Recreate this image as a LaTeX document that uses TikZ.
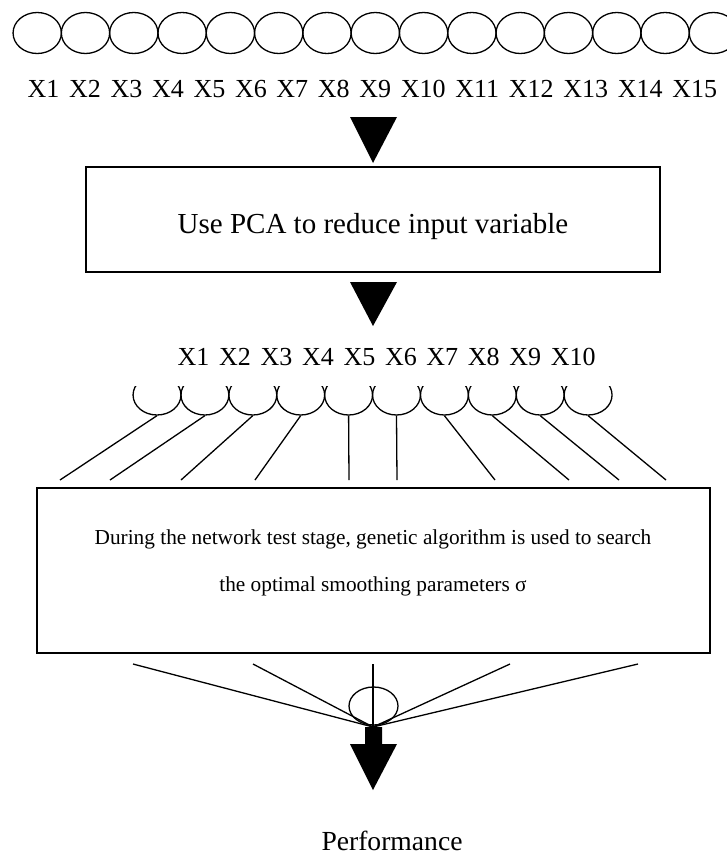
\documentclass[tikz,border=0pt]{standalone}
\usepackage{fontspec}
\setmainfont{Liberation Serif}
\usetikzlibrary{shapes.geometric}
\begin{document}
\begin{tikzpicture}[x=1pt,y=-1pt,line width=1.3pt,
  inell/.style={draw,ellipse,inner sep=0pt,minimum width=48.3pt,minimum height=41pt},
  cup/.style={draw,ellipse,inner sep=0pt,minimum width=47.9pt,minimum height=40pt},
  boxstyle/.style={draw,rectangle,inner sep=0pt,line width=1.6pt},
  lbl/.style={inner sep=0pt,font=\fontsize{26}{30}\selectfont},
  headfill/.style={fill=black,draw=none}]
\useasboundingbox (0,0) rectangle (727,857);

% input layer
\foreach \i in {1,...,15}
  \node[inell] (in\i) at ({37.2+48.3*(\i-1)},33) {};
\node[lbl,anchor=base west] (xin) at (27,97)
  {\spaceskip=9.7pt X1 X2 X3 X4 X5 X6 X7 X8 X9 X10 X11 X12 X13 X14 X15};

% arrow 1
\fill[headfill] (350,117) -- (397,117) -- (373,163) -- cycle;

% PCA box
\node[boxstyle,minimum width=574pt,minimum height=105pt] (pca) at (373,219.5) {};
\node[inner sep=0pt,anchor=base,font=\fontsize{29}{34}\selectfont] (pcatext) at (373,233)
  {Use PCA to reduce input variable};

% arrow 2
\fill[headfill] (350,282) -- (397,282) -- (373,326) -- cycle;

% reduced variables
\node[lbl,anchor=base west] (xred) at (177,365)
  {\spaceskip=9.7pt X1 X2 X3 X4 X5 X6 X7 X8 X9 X10};

\begin{scope}
  \clip (100,386) rectangle (640,430);
  \foreach \i in {1,...,10}
    \node[cup] (cup\i) at ({157+47.9*(\i-1)},395) {};
\end{scope}

\foreach \i/\x in {1/60,2/110,3/181,4/255,5/349,6/397,7/495,8/569,9/619,10/666} {
  \coordinate (t\i) at (\x,480);
  \draw (cup\i.south) -- (t\i);
}

% GA box
\node[boxstyle,minimum width=673pt,minimum height=165pt] (ga) at (373.5,570.5) {};
\node[inner sep=0pt,anchor=base,font=\fontsize{21.3}{25}\selectfont] (gatext1) at (373,544)
  {During the network test stage, genetic algorithm is used to search};
\node[inner sep=0pt,anchor=base,font=\fontsize{21.3}{25}\selectfont] (gatext2) at (373,591)
  {the optimal smoothing parameters σ};

% output
\node[draw,ellipse,inner sep=0pt,minimum width=49pt,minimum height=38pt] (out) at (373.5,706) {};
\coordinate (conv) at (373,727);
\foreach \i/\x in {1/133,2/253,3/373,4/510,5/638} {
  \coordinate (f\i) at (\x,664);
  \draw (f\i) -- (conv);
}
\fill[headfill] (365,727) -- (382,727) -- (382,744) -- (397,744) -- (373,790)
  -- (350,744) -- (365,744) -- cycle;

\node[inner sep=0pt,anchor=base,font=\fontsize{27.6}{32}\selectfont] (perf) at (392,850)
  {Performance};
\end{tikzpicture}
\end{document}
